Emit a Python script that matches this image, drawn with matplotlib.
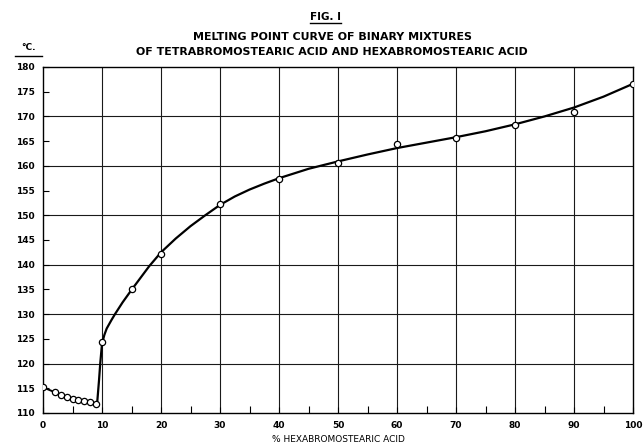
import matplotlib
matplotlib.use("Agg")
import matplotlib.pyplot as plt
from matplotlib.lines import Line2D
from matplotlib.ticker import MultipleLocator

# measured melting points (open circles)
pct_low = [0, 2, 3, 4, 5, 6, 7, 8, 9]
mp_low = [115.2, 114.2, 113.6, 113.2, 112.9, 112.6, 112.4, 112.2, 111.9]
pct_high = [10, 15, 20, 30, 40, 50, 60, 70, 80, 90, 100]
mp_high = [124.3, 135.0, 142.2, 152.2, 157.3, 160.6, 164.4, 165.7, 168.2, 170.8, 176.5]

# hand drawn curve
curve_x = [9.2, 9.35, 9.5, 9.7, 10.0, 10.4, 10.8, 11.6, 12.2, 13.5, 15.0, 16.5, 18.0,
           20.0, 22.5, 25, 27.5, 30, 32.5, 35, 37.5, 40, 45, 50, 55, 60, 65, 70, 75,
           80, 85, 90, 95, 100]
curve_y = [112.3, 114.5, 116.7, 120.0, 124.0, 125.8, 127.1, 128.8, 130.0, 132.4, 134.9,
           137.3, 139.7, 142.5, 145.3, 147.8, 150.0, 152.1, 153.8, 155.2, 156.4, 157.5,
           159.4, 160.9, 162.3, 163.6, 164.7, 165.8, 167.0, 168.4, 170.0, 171.8, 174.0,
           176.6]

x_ticks = list(range(0, 101, 10))
y_ticks = list(range(110, 181, 5))

title_lines = ["MELTING POINT CURVE OF BINARY MIXTURES",
               "OF TETRABROMOSTEARIC ACID AND HEXABROMOSTEARIC ACID"]

plt.rcParams['font.family'] = ['DejaVu Sans']
plt.rcParams['font.weight'] = 'bold'

fig = plt.figure(figsize=(6.44, 4.45), dpi=100)
ax = fig.add_axes([43 / 644, 1 - 413 / 445, 590 / 644, 346 / 445])

ax.set_xlim(0, 100)
ax.set_ylim(110, 180)
ax.xaxis.set_minor_locator(MultipleLocator(5))
ax.set_yticks(y_ticks)
ax.set_xticks(x_ticks)
ax.tick_params(axis='both', which='major', direction='in', length=4, width=0.8,
               labelsize=6.5, pad=6)
ax.tick_params(axis='x', which='minor', direction='in', length=5, width=0.8)
ax.tick_params(axis='x', which='major', pad=6)

# grid every 10 in both directions
for gx in x_ticks[1:-1]:
    ax.axvline(gx, color='#1a1a1a', lw=0.8, zorder=1)
for gy in range(120, 180, 10):
    ax.axhline(gy, color='#1a1a1a', lw=0.8, zorder=1)

for sp in ax.spines.values():
    sp.set_linewidth(1.0)

ax.plot(pct_low, mp_low, color='black', lw=1.4, zorder=2)
ax.plot(curve_x, curve_y, color='black', lw=1.6, zorder=2,
        solid_capstyle='round', solid_joinstyle='round')
ax.plot(pct_low, mp_low, 'o', ms=4.5, mfc='white', mec='black', mew=0.9, zorder=3)
ax.plot(pct_high, mp_high, 'o', ms=4.5, mfc='white', mec='black', mew=0.9, zorder=3)

ax.set_xlabel("% HEXABROMOSTEARIC ACID", fontsize=6.5, labelpad=3)

fig.text(326 / 644, 1 - 17 / 445, "FIG. I", ha='center', va='center', fontsize=7.5)
fig.add_artist(Line2D([310 / 644, 341 / 644], [1 - 23 / 445, 1 - 23 / 445], color='black', lw=1))
fig.text(332 / 644, 1 - 37 / 445, title_lines[0], ha='center', va='center', fontsize=7.9)
fig.text(332 / 644, 1 - 52 / 445, title_lines[1], ha='center', va='center', fontsize=7.9)
fig.text(29 / 644, 1 - 48 / 445, "°C.", ha='center', va='center', fontsize=6.5)
fig.add_artist(Line2D([15 / 644, 42 / 644], [1 - 56 / 445, 1 - 56 / 445], color='black', lw=1))

fig.savefig("out.png", dpi=100)
